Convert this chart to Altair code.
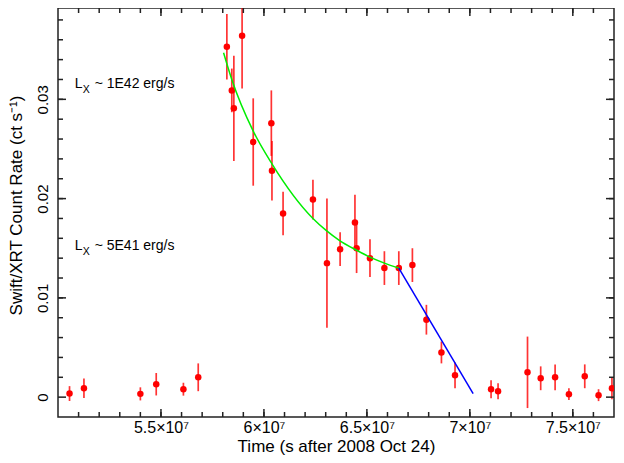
import altair as alt
import pandas as pd

# ---- data ----
time_s = [5.056e7, 5.126e7, 5.400e7, 5.477e7, 5.609e7, 5.681e7, 5.820e7, 5.844e7,
          5.854e7, 5.894e7, 5.948e7, 6.036e7, 6.039e7, 6.093e7, 6.238e7, 6.306e7,
          6.370e7, 6.442e7, 6.450e7, 6.515e7, 6.585e7, 6.655e7, 6.721e7, 6.789e7,
          6.862e7, 6.928e7, 7.103e7, 7.137e7, 7.280e7, 7.344e7, 7.414e7, 7.481e7,
          7.558e7, 7.625e7, 7.690e7]
rate = [0.00036, 0.0009, 0.00033, 0.0013, 0.0008, 0.0020, 0.0353, 0.0309,
        0.0291, 0.0364, 0.0257, 0.0276, 0.0228, 0.0185, 0.0199, 0.0135,
        0.0149, 0.0176, 0.0150, 0.0140, 0.0130, 0.0130, 0.0133, 0.0078,
        0.0045, 0.0022, 0.0008, 0.0006, 0.0025, 0.0019, 0.0020, 0.0003,
        0.0021, 0.0002, 0.0009]
rate_err = [0.00075, 0.00098, 0.00066, 0.00113, 0.00065, 0.0014, 0.0033, 0.0022,
            0.0053, 0.0053, 0.0044, 0.0033, 0.0030, 0.0022, 0.0020, 0.0065,
            0.0017, 0.0028, 0.0025, 0.0019, 0.0017, 0.0017, 0.0017, 0.0015,
            0.0011, 0.0013, 0.0009, 0.0008, 0.0036, 0.0012, 0.0013, 0.0006,
            0.0012, 0.0006, 0.0011]

# green (decay) fit
fit1_t = [5.804e7, 5.844e7, 5.948e7, 6.039e7, 6.238e7, 6.302e7, 6.366e7,
          6.450e7, 6.515e7, 6.585e7, 6.655e7]
fit1_v = [0.0347, 0.0320, 0.0268, 0.0235, 0.0180, 0.0168, 0.0158,
          0.0148, 0.0141, 0.0135, 0.0130]
# blue (linear) fit
fit2_t = [6.655e7, 7.016e7]
fit2_v = [0.0130, 0.00036]

x_major = [5.5e7, 6.0e7, 6.5e7, 7.0e7, 7.5e7]
y_major = [0.0, 0.01, 0.02, 0.03]
x_minor = [(50 + i) * 1e6 for i in range(1, 27)]
y_minor = [round(0.002 * k, 4) for k in range(1, 20)]

ann_t = [5.081e7, 5.081e7]
ann_v = [0.03116, 0.01486]
ann_main = ["L", "L"]
ann_sub = ["X", "X"]
ann_rest = ["~ 1E42 erg/s", "~ 5E41 erg/s"]

X_DOMAIN = [5.0e7, 7.7e7]
Y_DOMAIN = [-0.002, 0.0392]

# ---- tables ----
pts = pd.DataFrame({"t": time_s, "v": rate,
                    "lo": [r - e for r, e in zip(rate, rate_err)],
                    "hi": [r + e for r, e in zip(rate, rate_err)]})
f1 = pd.DataFrame({"t": fit1_t, "v": fit1_v})
f2 = pd.DataFrame({"t": fit2_t, "v": fit2_v})
ann = pd.DataFrame({"t": ann_t, "v": ann_v, "m": ann_main, "s": ann_sub, "r": ann_rest})

FONT = "Liberation Sans"
AXC = "#222222"
xs = alt.Scale(domain=X_DOMAIN, nice=False, zero=False)
ys = alt.Scale(domain=Y_DOMAIN, nice=False, zero=False)


def xticks(values, edge, length):
    """Vertical tick marks along the bottom/top frame edge, clipped to point inward."""
    return alt.Chart(pd.DataFrame({"t": values})).mark_tick(
        orient="vertical", size=2 * length, thickness=1.5, color=AXC, opacity=1, clip=True
    ).encode(
        x=alt.X("t:Q", scale=xs, axis=None),
        y=alt.Y(datum=edge, scale=ys, axis=None),
    )


def yticks(values, edge, length):
    """Horizontal tick marks along the left/right frame edge, clipped to point inward."""
    return alt.Chart(pd.DataFrame({"v": values})).mark_tick(
        orient="horizontal", size=2 * length, thickness=1.5, color=AXC, opacity=1, clip=True
    ).encode(
        x=alt.X(datum=edge, scale=xs, axis=None),
        y=alt.Y("v:Q", scale=ys, axis=None),
    )


x_lab = alt.Axis(orient="bottom", values=x_major, ticks=False, tickSize=0,
                 domain=False, grid=False,
                 labelExpr="datum.value/1e7 + '×10⁷'",
                 labelFont=FONT, labelFontSize=16, labelColor="black",
                 labelBaseline="alphabetic", labelPadding=15,
                 title="Time (s after 2008 Oct 24)", titleFont=FONT,
                 titleFontSize=17, titleFontWeight="normal", titleColor="black",
                 titleBaseline="alphabetic", titleY=34)
y_lab = alt.Axis(orient="left", values=y_major, ticks=False, tickSize=0,
                 domain=False, grid=False,
                 labelExpr="datum.value == 0 ? '0' : format(datum.value, '.2f')",
                 labelFont=FONT, labelFontSize=15, labelColor="black",
                 labelAngle=270, labelAlign="center", labelBaseline="alphabetic",
                 labelPadding=11,
                 title="Swift/XRT Count Rate (ct s⁻¹)", titleFont=FONT,
                 titleFontSize=17, titleFontWeight="normal", titleColor="black",
                 titleBaseline="alphabetic", titleX=-37, titleY=197)

errbars = alt.Chart(pts).mark_rule(color="red", strokeWidth=1.7, opacity=0.8, clip=True).encode(
    x=alt.X("t:Q", scale=xs, axis=x_lab),
    y=alt.Y("lo:Q", scale=ys, axis=y_lab),
    y2="hi:Q",
)
points = alt.Chart(pts).mark_circle(color="red", size=42, opacity=1, clip=True).encode(
    x=alt.X("t:Q", scale=xs, axis=None),
    y=alt.Y("v:Q", scale=ys, axis=None),
)
green = alt.Chart(f1).mark_line(color="#00ee00", strokeWidth=1.5, interpolate="monotone").encode(
    x=alt.X("t:Q", scale=xs, axis=None),
    y=alt.Y("v:Q", scale=ys, axis=None),
)
blue = alt.Chart(f2).mark_line(color="#0000ff", strokeWidth=1.5).encode(
    x=alt.X("t:Q", scale=xs, axis=None),
    y=alt.Y("v:Q", scale=ys, axis=None),
)
txt_main = alt.Chart(ann).mark_text(font=FONT, fontSize=14, align="left",
                                    baseline="alphabetic", color="black").encode(
    x=alt.X("t:Q", scale=xs, axis=None),
    y=alt.Y("v:Q", scale=ys, axis=None),
    text="m:N",
)
txt_sub = alt.Chart(ann).mark_text(font=FONT, fontSize=10.5, align="left",
                                   baseline="alphabetic", color="black", dx=8, dy=5).encode(
    x=alt.X("t:Q", scale=xs, axis=None),
    y=alt.Y("v:Q", scale=ys, axis=None),
    text="s:N",
)
txt_rest = alt.Chart(ann).mark_text(font=FONT, fontSize=14, align="left",
                                    baseline="alphabetic", color="black", dx=20).encode(
    x=alt.X("t:Q", scale=xs, axis=None),
    y=alt.Y("v:Q", scale=ys, axis=None),
    text="r:N",
)

tick_layers = [
    xticks(x_major, Y_DOMAIN[0], 8), xticks(x_minor, Y_DOMAIN[0], 5),
    xticks(x_major, Y_DOMAIN[1], 8), xticks(x_minor, Y_DOMAIN[1], 5),
    yticks(y_major, X_DOMAIN[0], 8), yticks(y_minor, X_DOMAIN[0], 5),
    yticks(y_major, X_DOMAIN[1], 8), yticks(y_minor, X_DOMAIN[1], 5),
]

chart = alt.layer(errbars, points, green, blue, txt_main, txt_sub, txt_rest,
                  *tick_layers).resolve_axis(
    x="independent", y="independent"
).properties(
    width=556, height=409,
    autosize=alt.AutoSizeParams(type="none"),
    padding={"left": 50, "top": 0, "right": 2, "bottom": 38},
    background="white",
).configure_view(stroke=AXC, strokeWidth=1.5)

chart.save("out.html", embed_options={"renderer": "svg", "actions": False})
